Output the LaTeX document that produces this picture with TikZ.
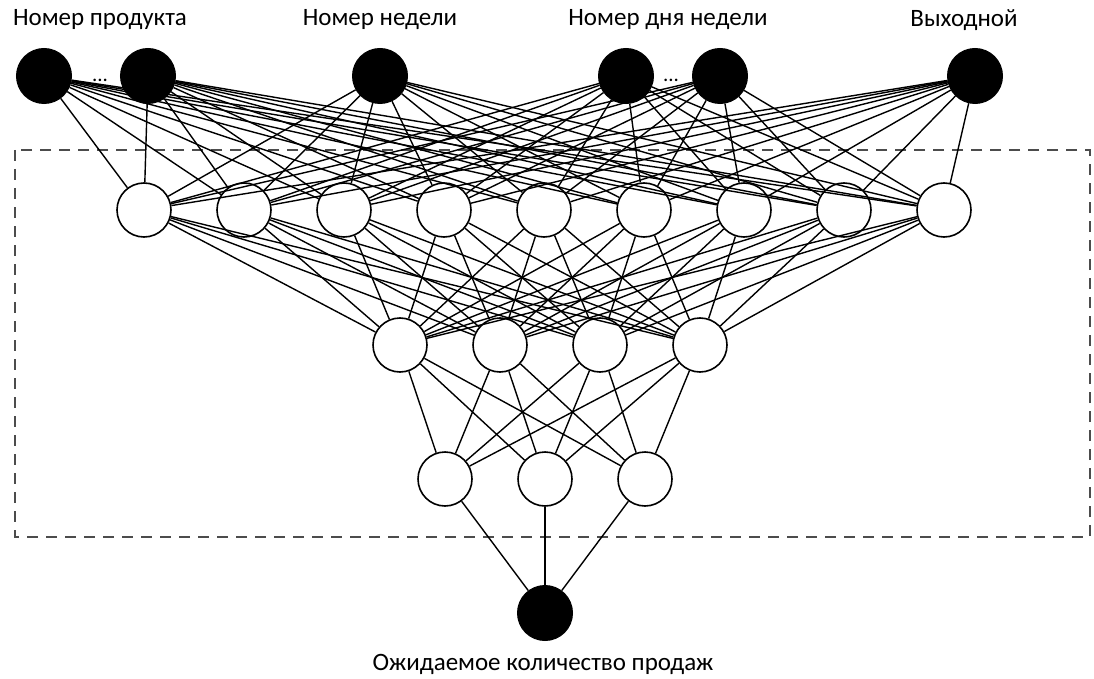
\documentclass[tikz,border=0pt]{standalone}
\usepackage{fontspec}
\setmainfont{Carlito}
\begin{document}
\begin{tikzpicture}[x=1pt,y=-1pt,
  inp/.style={circle,fill=black,draw=black,line width=1pt,minimum size=55pt,inner sep=0pt},
  hid/.style={circle,fill=white,draw=black,line width=1.6pt,minimum size=54pt,inner sep=0pt},
  lbl/.style={font=\fontsize{25}{30}\selectfont,inner sep=0pt},
  dots/.style={font=\fontsize{21}{24}\selectfont,inner sep=0pt},
  conn/.style={draw=black,line width=1.4pt},
  frame/.style={draw=black!70,line width=2pt,dash pattern=on 11pt off 8pt}]
\useasboundingbox (0,0) rectangle (1094,679);
% frame
\draw[frame] (15,150) rectangle (1090,537);
% input nodes
\node[inp] (i1) at (44,76) {};
\node[inp] (i2) at (148,76) {};
\node[inp] (i3) at (380,76) {};
\node[inp] (i4) at (626,76) {};
\node[inp] (i5) at (720,76) {};
\node[inp] (i6) at (975,76) {};
% hidden 1
\foreach \k in {1,...,9}{
  \node[hid] (a\k) at ({44+100*\k},210) {};
}
% hidden 2
\foreach \k in {1,...,4}{
  \node[hid] (b\k) at ({300+100*\k},345) {};
}
% hidden 3
\foreach \k in {1,...,3}{
  \node[hid] (c\k) at ({345+100*\k},479) {};
}
% output
\node[inp] (o) at (545,613) {};
% connections
\foreach \i in {1,...,6}{
  \foreach \k in {1,...,9}{
    \draw[conn] (i\i) -- (a\k);
  }
}
\foreach \i in {1,...,9}{
  \foreach \k in {1,...,4}{
    \draw[conn] (a\i) -- (b\k);
  }
}
\foreach \i in {1,...,4}{
  \foreach \k in {1,...,3}{
    \draw[conn] (b\i) -- (c\k);
  }
}
\foreach \i in {1,...,3}{
  \draw[conn] (c\i) -- (o);
}
% labels
\node[lbl] (t1) at (100,20) {Номер продукта};
\node[lbl] (t2) at (380,20) {Номер недели};
\node[lbl] (t3) at (668,20) {Номер дня недели};
\node[lbl] (t4) at (964,20) {Выходной};
\node[lbl] (t5) at (543,664) {Ожидаемое количество продаж};
\node[dots] (d1) at (100,80) {...};
\node[dots] (d2) at (671,80) {...};
\end{tikzpicture}
\end{document}
